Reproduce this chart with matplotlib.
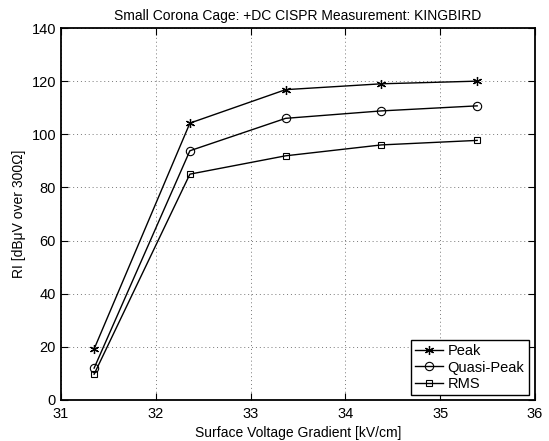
import matplotlib
matplotlib.use('Agg')
from matplotlib import pyplot as plt

matplotlib.rcParams['font.family'] = ['Liberation Sans', 'DejaVu Sans']
matplotlib.rcParams['font.size'] = 10

gradient = [31.35, 32.36, 33.37, 34.38, 35.39]
peak = [19.2, 104.2, 116.8, 119.0, 120.0]
quasi_peak = [12.0, 93.8, 106.0, 108.8, 110.7]
rms = [9.7, 85.0, 91.9, 96.0, 97.7]

fig = plt.figure(figsize=(5.49, 4.41), dpi=100)
ax = fig.add_axes([0.111, 0.093, 0.8635, 0.8435])

ax.plot(gradient, peak, color='black', marker=(6, 2, 0), markersize=6.5, markeredgewidth=0.9,
        linewidth=1.0, label='Peak')
ax.plot(gradient, quasi_peak, color='black', marker='o', markersize=6, markerfacecolor='none',
        markeredgewidth=0.8, linewidth=1.0, label='Quasi-Peak')
ax.plot(gradient, rms, color='black', marker='s', markersize=5, markerfacecolor='none',
        markeredgewidth=0.8, linewidth=1.0, label='RMS')

ax.set_xlim(31, 36)
ax.set_ylim(0, 140)
ax.set_xticks(range(31, 37))
ax.set_yticks(range(0, 141, 20))
ax.grid(True, linestyle=(0, (1, 3)), color='#777777', linewidth=0.7)
ax.tick_params(direction='in', top=True, right=True, length=5, labelsize=10.5)
ax.tick_params(axis='x', pad=5)
for s in ax.spines.values():
    s.set_linewidth(1.3)

ax.set_title('Small Corona Cage: +DC CISPR Measurement: KINGBIRD', fontsize=10)
ax.set_xlabel('Surface Voltage Gradient [kV/cm]', fontsize=10)
ax.set_ylabel('RI [dBμV over 300Ω]', fontsize=10)

leg = ax.legend(loc='lower right', bbox_to_anchor=(0.987, 0.013), fancybox=False,
                edgecolor='black', framealpha=1, handlelength=1.9, borderpad=0.3,
                labelspacing=0.15, handletextpad=0.35, borderaxespad=0.0, fontsize=10.5)
leg.get_frame().set_linewidth(1.0)

plt.savefig('out.png', dpi=100)
